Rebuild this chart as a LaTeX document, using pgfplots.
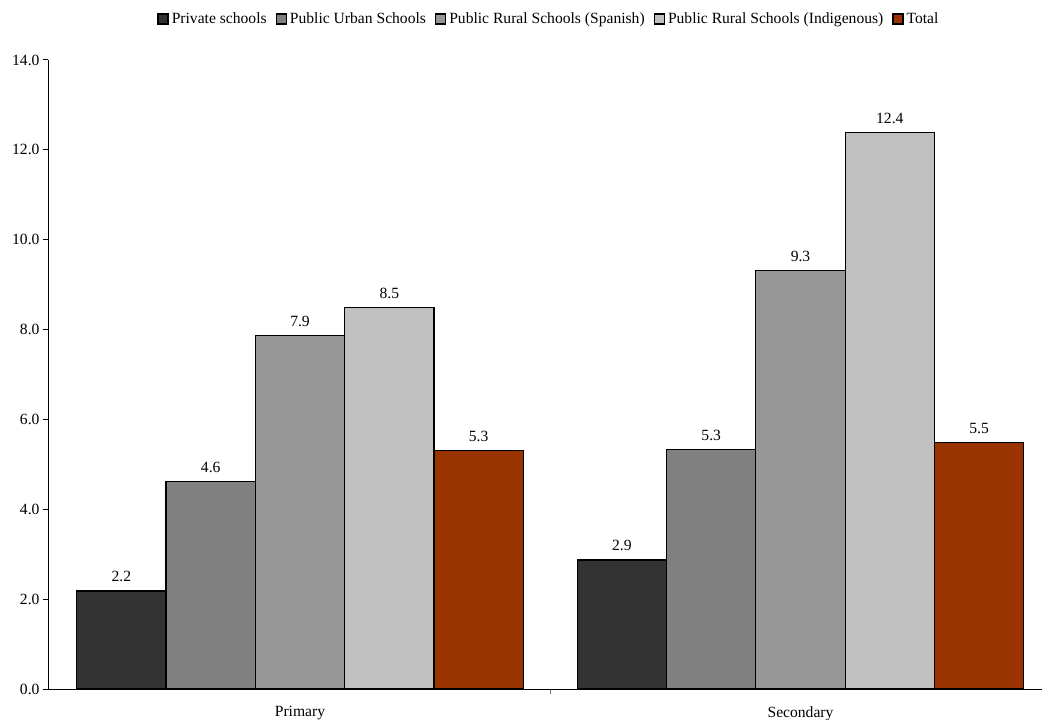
\documentclass[border=0pt]{standalone}
\usepackage{fontspec}
\setmainfont{Liberation Serif}
\usepackage{pgfplots}
\pgfplotsset{compat=1.18}
\definecolor{cpriv}{HTML}{333333}
\definecolor{curban}{HTML}{808080}
\definecolor{cspan}{HTML}{969696}
\definecolor{cind}{HTML}{C0C0C0}
\definecolor{ctot}{HTML}{993300}
\newcommand{\ff}{\fontsize{15.6bp}{18bp}\selectfont}
\begin{document}
\begin{tikzpicture}
\path[use as bounding box] (0,0) rectangle (1042bp,720bp);
\begin{axis}[
  at={(48bp,31bp)}, anchor=south west,
  scale only axis, width=994bp, height=629bp,
  xmin=-0.5035, xmax=1.4825, ymin=0, ymax=14,
  ybar=0pt, bar width=89.3bp,
  axis x line*=bottom, axis y line*=left,
  axis line style={line width=1bp, black},
  tick align=outside, major tick length=5bp,
  /pgf/number format/assume math mode=true,
  ytick={0,2,...,14},
  yticklabel style={font=\ff, /pgf/number format/.cd, fixed, fixed zerofill, precision=1},
  ytick style={line width=1bp, black},
  xtick={0.5}, xticklabels={},
  xtick style={draw=black!55, line width=1bp},
  extra x ticks={0,1}, extra x tick labels={Primary,Secondary},
  extra x tick style={major tick length=0pt, xticklabel style={font=\ff, yshift=-14bp}},
  nodes near coords,
  every node near coord/.append style={font=\ff, yshift=5bp, black, /pgf/number format/.cd, fixed, fixed zerofill, precision=1},
  legend style={at={(0.504,1.0652)}, anchor=center, draw=none, font=\ff,
    /tikz/every even column/.append style={column sep=7bp},
    /tikz/every odd column/.append style={column sep=1bp}},
  legend columns=-1,
  legend image code/.code={\draw[#1, draw=black, line width=1.3bp] (0bp,-5bp) rectangle (10bp,5bp);},
]
\addplot[fill=cpriv, draw=black, line width=1.2bp] coordinates {(0,2.18) (1,2.87)};
\addlegendentry{Private schools}
\addplot[fill=curban, draw=black, line width=1.2bp] coordinates {(0,4.61) (1,5.33)};
\addlegendentry{Public Urban Schools}
\addplot[fill=cspan, draw=black, line width=1.2bp] coordinates {(0,7.86) (1,9.31)};
\addlegendentry{Public Rural Schools (Spanish)}
\addplot[fill=cind, draw=black, line width=1.2bp] coordinates {(0,8.49) (1,12.38)};
\addlegendentry{Public Rural Schools (Indigenous)}
\addplot[fill=ctot, draw=black, line width=1.2bp] coordinates {(0,5.30) (1,5.48)};
\addlegendentry{Total}
\end{axis}
\end{tikzpicture}
\end{document}
